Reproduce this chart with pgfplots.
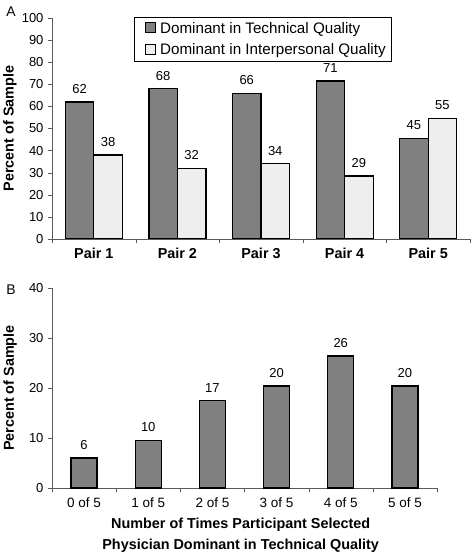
\documentclass[border=0pt]{standalone}
\usepackage{pgfplots}
\pgfplotsset{compat=1.18}
\usepackage{pgfplotstable}
\usepackage{fontspec}
\setmainfont{Liberation Sans}
\definecolor{dk}{RGB}{128,128,128}
\definecolor{lt}{RGB}{238,238,238}
\definecolor{ax}{RGB}{90,90,90}
\pgfplotstableread{
x tech techlab inter interlab
0 62   62 38   38
1 68   68 32   32
2 66   66 34   34
3 71.5 71 28.5 29
4 45.5 45 54.5 55
}\toptable
\pgfplotstableread{
x val lab
0 6    6
1 9.5  10
2 17.5 17
3 20.4 20
4 26.4 26
5 20.4 20
}\bottable
\pgfplotsset{
  common/.style={
    scale only axis,
    axis lines=left,
    axis line style={-, draw=ax},
    tick align=outside,
    tick pos=left,
    ytick style={draw=ax},
    major x tick style={draw=none},
    minor x tick style={draw=ax},
    major tick length=4pt,
    minor tick length=4pt,
    yticklabel style={font=\fontsize{13}{15}\selectfont, xshift=-1pt},
    /pgf/number format/assume math mode=true,
    nodes near coords style={font=\fontsize{13}{15}\selectfont, anchor=south, yshift=4.5pt, text=black},
    point meta=explicit symbolic,
  }
}
\begin{document}
\begin{tikzpicture}
\useasboundingbox (0pt,0pt) rectangle (474pt,554pt);
\node at (11pt,542pt) {\fontsize{14}{16}\selectfont A};
\node at (11pt,264pt) {\fontsize{14}{16}\selectfont B};
\begin{axis}[common,
  at={(52pt,315pt)}, anchor=south west,
  width=418pt, height=221pt,
  xmin=-0.5, xmax=4.5, ymin=0, ymax=100,
  ytick={0,10,...,100},
  xtick={0,...,4},
  xticklabels={Pair 1,Pair 2,Pair 3,Pair 4,Pair 5},
  minor xtick={-0.5,0.5,...,4.5},
  xticklabel style={font=\fontsize{14.4}{16}\selectfont\bfseries, yshift=-2pt},
  ylabel={Percent of Sample},
  every axis y label/.style={at={(axis description cs:-0.1005,0.5)}, rotate=90, anchor=center,
    font=\fontsize{14.4}{16}\selectfont\bfseries},
  ybar=0pt, bar width=28.5pt,
  nodes near coords,
  legend style={at={(axis description cs:0.196,1.005)}, anchor=north west, draw=black,
    font=\fontsize{15.2}{18}\selectfont, row sep=5pt, inner xsep=3pt, inner ysep=3pt},
  legend cell align=left,
  legend image code/.code={\draw[#1, line width=0.6pt] (8pt,-4pt) rectangle (18pt,6pt); \path[draw=none, fill=none] (0pt,0pt) -- (21pt,0pt);},
]
\addplot[draw=black, line width=1.2pt, fill=dk] table[x=x, y=tech, meta=techlab] {\toptable};
\addplot[draw=black, line width=1.2pt, fill=lt] table[x=x, y=inter, meta=interlab] {\toptable};
\legend{Dominant in Technical Quality, Dominant in Interpersonal Quality}
\end{axis}
\begin{axis}[common,
  at={(52pt,66pt)}, anchor=south west,
  width=385pt, height=200pt,
  xmin=-0.5, xmax=5.5, ymin=0, ymax=40,
  ytick={0,10,...,40},
  xtick={0,...,5},
  xticklabels={0 of 5,1 of 5,2 of 5,3 of 5,4 of 5,5 of 5},
  minor xtick={-0.5,0.5,...,5.5},
  xticklabel style={font=\fontsize{13.5}{15}\selectfont, yshift=-2pt},
  ylabel={Percent of Sample},
  every axis y label/.style={at={(axis description cs:-0.109,0.5)}, rotate=90, anchor=center,
    font=\fontsize{14.4}{16}\selectfont\bfseries},
  xlabel={Number of Times Participant Selected\\Physician Dominant in Technical Quality},
  every axis x label/.style={at={(axis description cs:0.49,-0.2375)}, anchor=center, align=center,
    font=\fontsize{14.4}{21}\selectfont\bfseries},
  ybar, bar width=26pt,
  nodes near coords,
]
\addplot[draw=black, line width=1.2pt, fill=dk] table[x=x, y=val, meta=lab] {\bottable};
\end{axis}
\end{tikzpicture}
\end{document}
